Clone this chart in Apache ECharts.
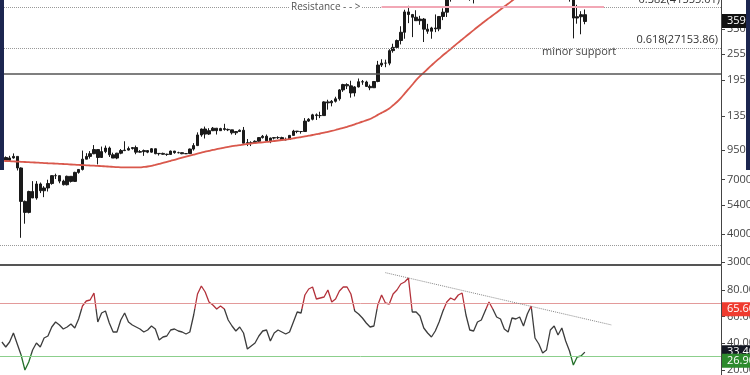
<!DOCTYPE html>
<html><head><meta charset="utf-8">
<script src="https://cdn.jsdelivr.net/npm/echarts@6/dist/echarts.min.js"></script>
<style>html,body{margin:0;padding:0;background:#fff}#c{width:750px;height:375px}</style>
</head><body><div id="c"></div>
<script>
// 3-day candles, BTC/USD, from 2020-02-25
const openP=[9650,8800,8550,8760,8900,7900,5600,5000,6200,5800,
6700,6250,6430,6730,7300,7300,6900,6650,7250,6880,
7550,7780,8650,8900,9150,9550,8800,9350,9700,9050,
8750,9200,9450,9500,9650,9750,9300,9350,9450,9300,
9630,9150,9180,9100,9080,9400,9250,9250,9150,9160,
9600,9950,11100,11800,11200,11600,11900,11600,11850,11750,
11700,11350,11500,11650,10200,10250,10250,10400,10800,10950,
10450,10750,10800,10800,10550,10600,11050,11550,11500,11500,
12800,13050,13650,13550,13550,15600,15450,15700,16100,17650,
18650,18400,17100,18200,19200,19150,18300,18050,19250,22800,
23250,23250,26450,27350,29350,31950,39400,38350,37300,36000,
36600,33000,32300,33400,33100,37600,39300,46500,47900,48700,
51600,57500,49700,46300,48400,48900,52400,57800,59300,58900,
58100,54500,55100,57600,58800,58700,56000,59800,63600,61300,
55700,51700,49000,55000,57800,53300,56600,55900,49500,46400,
37000,37500,38300];
const closeP=[8800,8550,8760,8900,7900,5600,5000,6200,5800,6700,
6250,6430,6730,7300,7300,6900,6650,7250,6880,7550,
7780,8650,8900,9150,9550,8800,9350,9700,9050,8750,
9200,9450,9500,9650,9750,9300,9350,9450,9300,9630,
9150,9180,9100,9080,9400,9250,9250,9150,9160,9600,
9950,11100,11800,11200,11600,11900,11600,11850,11750,11700,
11350,11500,11650,10200,10250,10250,10400,10800,10950,10450,
10750,10800,10800,10550,10600,11050,11550,11500,11500,12800,
13050,13650,13550,13550,15600,15450,15700,16100,17650,18650,
18400,17100,18200,19200,19150,18300,18050,19250,22800,23250,
23250,26450,27350,29350,31950,39400,38350,37300,36000,36600,
33000,32300,33400,33100,37600,39300,46500,47900,48700,51600,
57500,49700,46300,48400,48900,52400,57800,59300,58900,58100,
54500,55100,57600,58800,58700,56000,59800,63600,61300,55700,
51700,49000,55000,57800,53300,56600,55900,49500,46400,37000,
37500,38300,35700];
const lowP=[8550,8450,8500,8700,7700,3850,4450,4950,5800,5700,
6100,5850,6200,6650,7050,6750,6600,6600,6800,6850,
7450,7700,8650,8700,9100,8200,8800,9200,8850,8750,
8650,9100,9400,9450,9550,9100,9250,8950,9200,9250,
9100,8980,9050,8950,9050,9150,9180,9100,9120,9150,
9450,9900,10900,10700,11100,11550,11150,11600,11600,11550,
11150,11100,11450,10150,9900,9900,10200,10250,10700,10400,
10200,10600,10650,10450,10500,10550,11050,11300,11250,11500,
12700,12900,12950,13200,13550,14400,14900,15500,15800,17300,
17800,16300,16500,18100,18600,18200,17600,18000,19100,22350,
22300,22750,25900,27300,28200,29900,35100,30400,35900,34500,
28900,31450,29900,32000,32300,36200,37400,43800,45600,47100,
50800,45000,44200,43000,46500,47100,49800,54900,53600,56400,
53700,50400,54700,57000,56600,55500,56000,59300,60000,51500,
51500,47000,48800,52400,53000,53000,54000,46000,43800,30000,
34900,31300,34700];
const highP=[9700,8900,8950,9180,8900,7950,5650,6250,6900,6900,
6800,6550,7000,7330,7450,7300,7000,7300,7250,7600,
7800,9450,9200,9400,10000,9550,9850,9950,9850,9250,
9230,9600,10400,9850,9800,9950,9500,9550,9500,9700,
9650,9200,9250,9150,9450,9420,9340,9270,9200,9650,
10200,11400,11850,12100,11900,12050,11900,11950,12450,11850,
11700,11550,11750,12050,10650,10400,10500,10850,11100,11150,
10800,10850,10950,10900,10800,11100,11700,11550,11550,13200,
13200,13800,13850,14100,15700,15950,15900,16450,17800,18800,
18900,19400,18350,19850,19550,19400,18650,19350,23800,24200,
24100,26850,28400,29650,34000,40300,41950,38600,40100,37850,
37000,34850,33800,38400,37700,40900,48200,48900,49700,52600,
58350,58000,52000,50000,52600,52500,58100,61700,60300,60000,
58400,57200,58400,59800,60000,59500,61200,63800,64850,62500,
57000,52300,56400,58400,58000,58300,59500,57700,51400,46600,
42400,39700,40400];
const ma200=[8506,8488,8470,8453,8436,8419,8402,8384,8367,8350,
8330,8313,8296,8280,8263,8246,8229,8212,8187,8170,
8153,8137,8120,8103,8087,8070,8054,8029,8013,7988,
7972,7956,7956,7956,7956,7956,7956,7988,8021,8070,
8153,8238,8322,8419,8506,8594,8692,8790,8882,8974,
9066,9160,9245,9341,9428,9516,9584,9663,9743,9814,
9886,9947,9998,10060,10112,10164,10206,10248,10290,10333,
10376,10430,10484,10538,10592,10636,10714,10790,10856,10934,
11013,11094,11187,11267,11360,11455,11562,11681,11815,11937,
12073,12211,12389,12555,12724,12909,13083,13354,13647,13930,
14220,14576,15063,15584,16223,16990,17778,18621,19507,20325,
21094,21890,22716,23576,24363,25210,26031,26902,27800,28732,
29660,30650,31645,32670,33727,34784,35910,36965,38050,39180,
40370,41630,42845,44190,45600,47000,48000];
const rsi=[41,37.25,41,47.75,39.5,31.25,20,26,35,40.25,
37.25,44,45.5,52.25,56,53.75,50.75,52.25,54.5,51.5,
58.25,68,71.75,72.5,77.75,56,62.75,64.25,55.25,48.5,
48.5,57.5,62.75,56,53.75,52.25,50.75,48.5,50,53,
50.75,42.5,44.75,45.5,50,50.75,49.25,48.5,47,48.5,
61.25,77,83,78.5,71,68.75,65.75,68,65.75,57.5,
53,49.25,52.25,47.75,35.75,38,40.25,45.5,49.25,50,
41.75,47.75,50,48.5,47,48.5,56,63.5,62.75,76.25,
80.75,82.25,73.25,74,74.75,80,71,73.25,79.25,82.25,
82.25,77,64.25,62,59,55.25,52.25,53,68.75,76.25,
70.25,69.5,77,80,84.5,86,89,63.5,63.5,60.5,
51.5,47.75,44.75,49.25,56,64.25,71,74,72.5,76.25,
77.75,61.25,50,49.25,56,57.5,64.25,71,65.75,59.75,
58.25,50.75,48.5,59,58.25,59.75,53,62,68,44,
39.5,32.75,35,50,53,46.25,51.5,41.75,34.25,23.75,
29.75,30.5,33.4];
const priceTicks=[3000,4000,5400,7000,9500,13500,19500,25500,33000,45000];
const rsiTicks=[20,40,60,80];
const fib382=41555.01, fib618=27153.86;
const levelMid=20900, levelLow=3570, lastPrice=35900;
const rsiUpper=70, rsiLower=30, rsiTagRed=65.6, rsiTagLast=33.4, rsiTagGreen=26.9;
const trendStartSlot=100, trendStartVal=93, trendEndSlot=159, trendEndVal=53.75;
const resistStartSlot=99, resistEndSlot=157;
const slotCount=188;

const categories=[];
const d0=Date.UTC(2020,1,25);
for(let i=0;i<slotCount;i++){categories.push(new Date(d0+i*3*864e5).toISOString().slice(0,10));}
const candles=closeP.map((c,i)=>[openP[i],c,lowP[i],highP[i]]);

const FONT='"Open Sans","Noto Sans",sans-serif';
const chart=echarts.init(document.getElementById('c'),null,{renderer:'canvas'});
const noLabel={show:false};
const hidden={color:'rgba(0,0,0,0)',width:0};
function tag(v,bg){
  return {yAxis:v,lineStyle:hidden,
    label:{show:true,position:'end',formatter:v.toFixed(2),color:'#fff',backgroundColor:bg,
      padding:[2,4,1,5],fontSize:11,fontFamily:FONT,distance:1}};
}
const option={
  animation:false,
  backgroundColor:'#ffffff',
  grid:[{left:0,right:29,top:0,height:265,outerBoundsMode:'none',containLabel:false},
        {left:0,right:29,top:266,bottom:0,outerBoundsMode:'none',containLabel:false}],
  xAxis:[
    {type:'category',gridIndex:0,data:categories,boundaryGap:true,
     axisLine:{show:true,lineStyle:{color:'#555',width:2}},axisTick:{show:false},axisLabel:{show:false},splitLine:{show:false}},
    {type:'category',gridIndex:1,data:categories,boundaryGap:true,show:false}
  ],
  yAxis:[
    {type:'log',logBase:10,gridIndex:0,position:'right',min:2909,max:44550,
     axisLine:{show:true,lineStyle:{color:'#444',width:1}},
     axisTick:{show:true,length:4,lineStyle:{color:'#444'},customValues:priceTicks},
     axisLabel:{customValues:priceTicks,formatter:v=>Number(v).toFixed(2),color:'#444',fontSize:11,margin:6,fontFamily:FONT},
     splitLine:{show:false}},
    {type:'value',gridIndex:1,position:'right',min:16.25,max:98,
     axisLine:{show:true,lineStyle:{color:'#444',width:1}},
     axisTick:{show:true,length:4,lineStyle:{color:'#444'},customValues:rsiTicks},
     axisLabel:{customValues:rsiTicks,formatter:v=>Number(v).toFixed(2),color:'#444',fontSize:11,margin:6,fontFamily:FONT},
     splitLine:{show:false}}
  ],
  visualMap:{type:'piecewise',show:false,seriesIndex:2,dimension:1,
    pieces:[{gt:66,color:'#b3313a'},{gt:32,lte:66,color:'#3c3c3c'},{lte:32,color:'#24702a'}]},
  series:[
    {type:'candlestick',name:'BTCUSD',xAxisIndex:0,yAxisIndex:0,data:candles,barWidth:3,clip:true,
     itemStyle:{color:'#1a1a1a',color0:'#1a1a1a',borderColor:'#1a1a1a',borderColor0:'#1a1a1a',borderWidth:1},
     markLine:{silent:true,symbol:['none','none'],animation:false,
      data:[
        {yAxis:levelLow,lineStyle:{type:'dotted',color:'#999',width:1},label:noLabel},
        {yAxis:levelMid,lineStyle:{type:'solid',color:'#555',width:1.5},label:noLabel},
        {yAxis:fib618,lineStyle:{type:'dotted',color:'#999',width:1},
         label:{show:true,position:'insideEndTop',formatter:'0.618('+fib618.toFixed(2)+')',color:'#333',fontSize:11,fontFamily:FONT,distance:3}},
        {yAxis:fib382,lineStyle:{type:'dotted',color:'#999',width:1},
         label:{show:true,position:'insideEndTop',formatter:'0.382('+fib382.toFixed(2)+')',color:'#333',fontSize:11,fontFamily:FONT,distance:1}},
        [{coord:[categories[resistStartSlot],fib382],lineStyle:{type:'solid',color:'#f2a7b5',width:2},label:noLabel},
         {coord:[categories[resistEndSlot],fib382]}],
        tag(lastPrice,'#111111')
      ]}},
    {type:'line',name:'MA200',xAxisIndex:0,yAxisIndex:0,data:ma200,symbol:'none',smooth:0.3,clip:true,
     lineStyle:{color:'#d9584c',width:1.8},z:3},
    {type:'line',name:'RSI',xAxisIndex:1,yAxisIndex:1,data:rsi,symbol:'none',lineStyle:{width:1.3},z:3},
    {type:'line',name:'RSI levels',xAxisIndex:1,yAxisIndex:1,data:[],symbol:'none',
     markLine:{silent:true,symbol:['none','none'],animation:false,
      data:[
        {yAxis:rsiUpper,lineStyle:{type:'solid',color:'#e39a9a',width:1},label:noLabel},
        {yAxis:rsiLower,lineStyle:{type:'solid',color:'#8ccf8c',width:1},label:noLabel},
        [{coord:[categories[trendStartSlot],trendStartVal],lineStyle:{type:'dotted',color:'#888',width:1},label:noLabel},
         {coord:[categories[trendEndSlot],trendEndVal]}],
        tag(rsiTagRed,'#ef3b2f'),
        tag(rsiTagLast,'#141823'),
        tag(rsiTagGreen,'#2d8a2d')
      ]}}
  ],
  graphic:[
    {type:'text',left:290,top:2,z:50,style:{text:'Resistance - - >',fill:'#555',font:'10px "Open Sans"',backgroundColor:'#fff',padding:[0,1]}},
    {type:'text',left:542,top:46,z:50,style:{text:'minor support',fill:'#444',font:'11px "Open Sans"'}},
    {type:'rect',left:0,top:0,z:100,shape:{width:4,height:170},style:{fill:'#1c2650'}},
    {type:'rect',left:746,top:0,z:100,shape:{width:4,height:170},style:{fill:'#1c2650'}}
  ]
};
chart.setOption(option);
</script></body></html>
